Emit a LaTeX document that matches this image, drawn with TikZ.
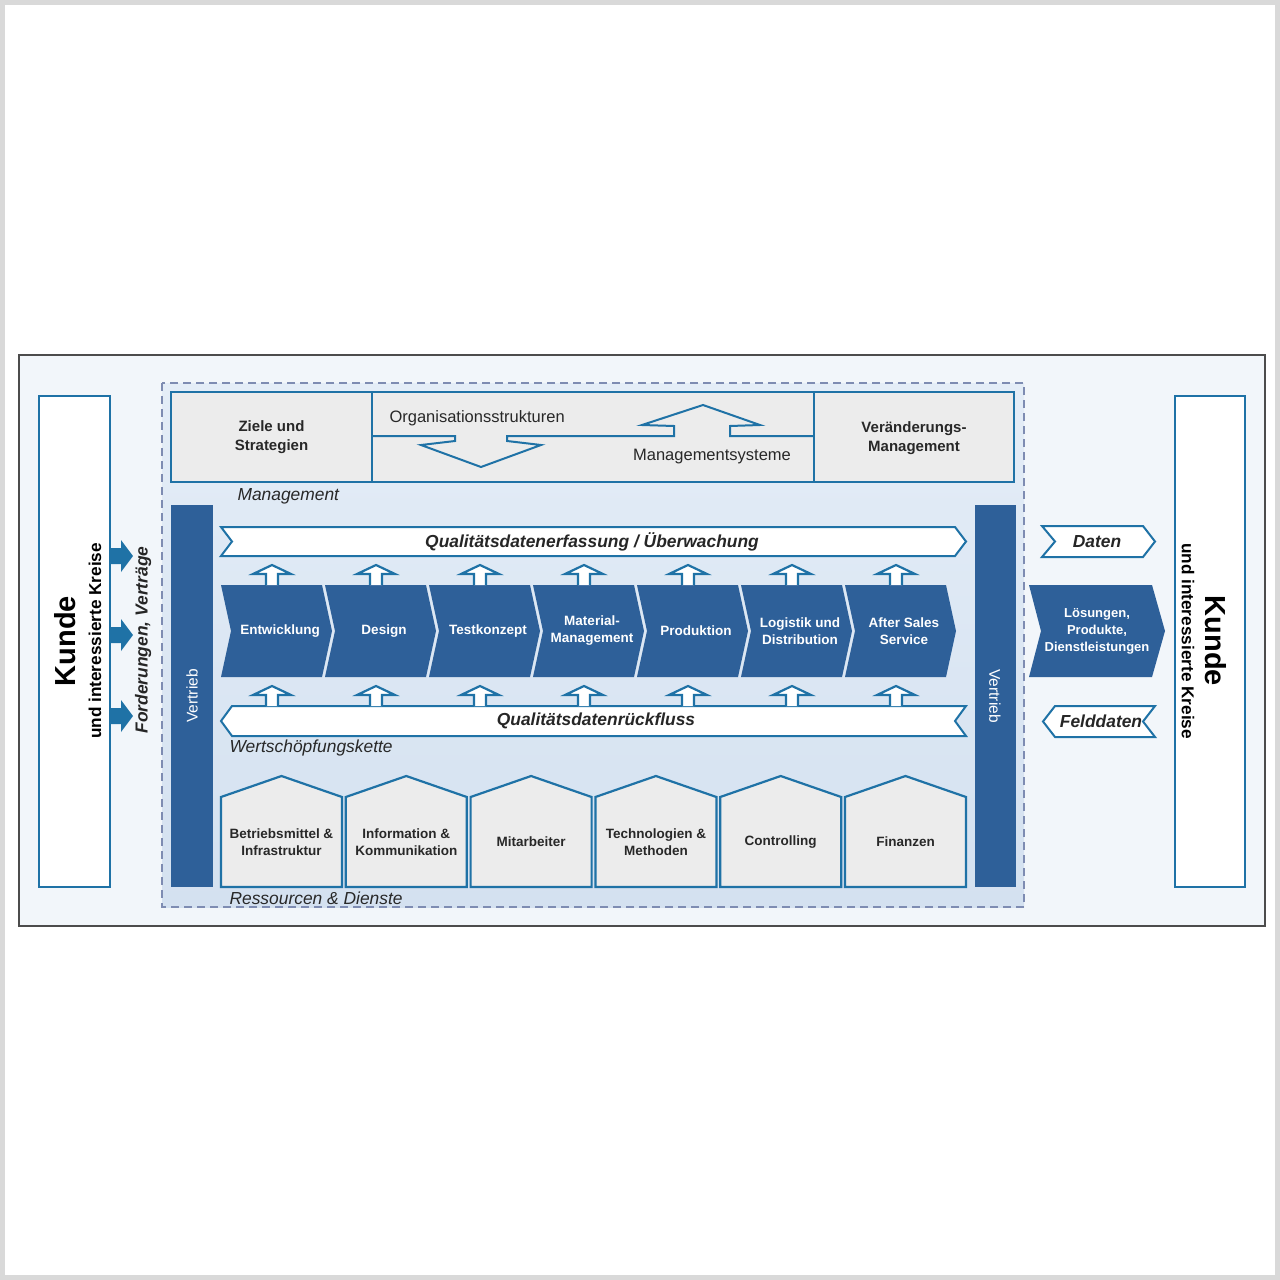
\documentclass[tikz,border=0pt]{standalone}
\usepackage{fontspec}
\setmainfont{Liberation Sans}
\usepackage{tikz}
\usetikzlibrary{calc}

\definecolor{kblue}{RGB}{31,114,166}
\definecolor{vblue}{RGB}{46,96,153}
\definecolor{dashblue}{RGB}{126,140,178}
\definecolor{areatop}{RGB}{228,237,247}
\definecolor{areabot}{RGB}{212,225,240}
\definecolor{panelblue}{RGB}{242,246,250}
\definecolor{boxgray}{RGB}{236,236,236}
\definecolor{txtgray}{RGB}{40,40,40}

\begin{document}
\begin{tikzpicture}[x=1pt, y=-1pt,
  box/.style={draw=kblue, line width=2.2pt, fill=boxgray},
  kbox/.style={draw=kblue, line width=2.5pt, fill=white},
  band/.style={draw=kblue, line width=2pt, fill=white},
  uparr/.style={draw=kblue, line width=2.2pt, fill=white, line join=miter},
  lbl/.style={font=\fontsize{15}{19.5}\selectfont\bfseries, text=txtgray, align=center},
  small/.style={font=\fontsize{13.5}{17}\selectfont\bfseries, text=txtgray, align=center},
  wlbl/.style={font=\fontsize{13.5}{17}\selectfont\bfseries, text=white, align=center},
  thin/.style={font=\fontsize{16.5}{19}\selectfont, text=txtgray},
  ital/.style={font=\fontsize{17.4}{20}\selectfont\itshape, text=txtgray, anchor=west},
  bital/.style={font=\fontsize{17.4}{20}\selectfont\bfseries\itshape, text=black!85}]
\useasboundingbox (0,0) rectangle (1280,1280);
\draw[gray!30, line width=5pt] (2.5,2.5) rectangle (1277.5,1277.5);
\draw[black!70, line width=1.8pt, fill=panelblue] (19,355) rectangle (1265,926);
\draw[dashblue, line width=1.8pt, dash pattern=on 8pt off 5pt, top color=areatop, bottom color=areabot] (162,383) rectangle (1024,907);

% Kunde links
\draw[kbox] (39,396) rectangle (110,887);
\node[rotate=90, font=\fontsize{29}{30}\selectfont\bfseries] (kundeL) at (65,641) {Kunde};
\node[rotate=90, font=\fontsize{17.2}{18}\selectfont\bfseries] (kreiseL) at (95,641) {und interessierte Kreise};
\foreach \y in {556,635,716}
  \fill[kblue] (111,\y-8) -- (121,\y-8) -- (121,\y-16) -- (133,\y) -- (121,\y+16) -- (121,\y+8) -- (111,\y+8) -- cycle;
\node[rotate=90, bital] (forder) at (143,640) {Forderungen, Verträge};

% Management
\draw[box] (171,392) rectangle (372,482);
\node[lbl] (ziele) at (271.5,437) {Ziele und\\Strategien};
\draw[box] (372,392) rectangle (814,482);
\draw[kblue, line width=2pt, line join=miter] (372,436) -- (455,436) -- (455,441) -- (421,445) -- (481,467) -- (541,445) -- (507,441) -- (507,436)
  -- (674,436) -- (674,426) -- (642,425) -- (703,405) -- (760,425) -- (730,426) -- (730,436) -- (814,436);
\node[thin, anchor=west] (orga) at (386,418) {Organisationsstrukturen};
\node[thin] (msys) at (712,457) {Managementsysteme};
\draw[box] (814,392) rectangle (1014,482);
\node[lbl] (aender) at (914,438) {Veränderungs-\\Management};
\node[ital] (mgmt) at (234,496) {Management};

% Vertrieb
\fill[vblue] (171,505) rectangle (213,887);
\node[rotate=90, font=\fontsize{15.5}{17}\selectfont, text=white] (vertriebL) at (192,696) {Vertrieb};
\fill[vblue] (975,505) rectangle (1016,887);
\node[rotate=-90, font=\fontsize{15.5}{17}\selectfont, text=white] (vertriebR) at (995,696) {Vertrieb};

% Wertschoepfungskette
\draw[band] (221,527) -- (955,527) -- (966,541.5) -- (955,556) -- (221,556) -- (232,541.5) -- cycle;
\node[bital] (qerf) at (592,541.5) {Qualitätsdatenerfassung / Überwachung};
\draw[band] (232,706) -- (966,706) -- (955,721) -- (966,736) -- (232,736) -- (221,721) -- cycle;
\node[bital] (qrueck) at (596,721) {Qualitätsdatenrückfluss};
\foreach \t [count=\i from 0] in {Entwicklung, Design, Testkonzept, {Material-\\Management}, Produktion, {Logistik und\\Distribution}, {After Sales\\Service}} {
  \pgfmathsetmacro\xa{221+104*\i}
  \fill[vblue] (\xa,585) -- ++(101,0) -- ++(10,46) -- ++(-10,46) -- ++(-101,0) -- ++(10,-46) -- cycle;
  \node[wlbl] (p\i) at (\xa+59,631) {\t};
  \draw[uparr] (\xa+45,585) -- (\xa+45,574) -- (\xa+32,574) -- (\xa+51,565) -- (\xa+70,574) -- (\xa+57,574) -- (\xa+57,585);
  \draw[uparr] (\xa+45,706) -- (\xa+45,695) -- (\xa+32,695) -- (\xa+51,686) -- (\xa+70,695) -- (\xa+57,695) -- (\xa+57,706);
}
\node[ital] (wsk) at (226,748) {Wertschöpfungskette};

% Ressourcen
\foreach \t [count=\i from 0] in {{Betriebsmittel \&\\Infrastruktur}, {Information \&\\Kommunikation}, Mitarbeiter, {Technologien \&\\Methoden}, Controlling, Finanzen} {
  \pgfmathsetmacro\xa{221+124.8*\i}
  \draw[box, line join=miter] (\xa,887) -- (\xa,797) -- (\xa+60.5,776) -- (\xa+121,797) -- (\xa+121,887) -- cycle;
  \node[small] (r\i) at (\xa+60.5,842) {\t};
}
\node[ital] (ressourcen) at (226,898) {Ressourcen \& Dienste};

% Kunde rechts
\draw[band] (1042,526) -- (1143,526) -- (1155,541.5) -- (1143,557) -- (1042,557) -- (1055,541.5) -- cycle;
\node[bital] (daten) at (1097,541.5) {Daten};
\fill[vblue] (1029,585) -- (1152,585) -- (1165,631) -- (1152,677) -- (1029,677) -- (1041,631) -- cycle;
\node[wlbl, font=\fontsize{13}{17}\selectfont\bfseries] (loesung) at (1097,631) {Lösungen,\\Produkte,\\Dienstleistungen};
\draw[band] (1055,706) -- (1155,706) -- (1143,721.5) -- (1155,737) -- (1055,737) -- (1043,721.5) -- cycle;
\node[bital] (feld) at (1101,721.5) {Felddaten};
\draw[kbox] (1175,396) rectangle (1245,887);
\node[rotate=-90, font=\fontsize{29}{30}\selectfont\bfseries] (kundeR) at (1216,641) {Kunde};
\node[rotate=-90, font=\fontsize{17.2}{18}\selectfont\bfseries] (kreiseR) at (1188,641) {und interessierte Kreise};
\end{tikzpicture}
\end{document}
